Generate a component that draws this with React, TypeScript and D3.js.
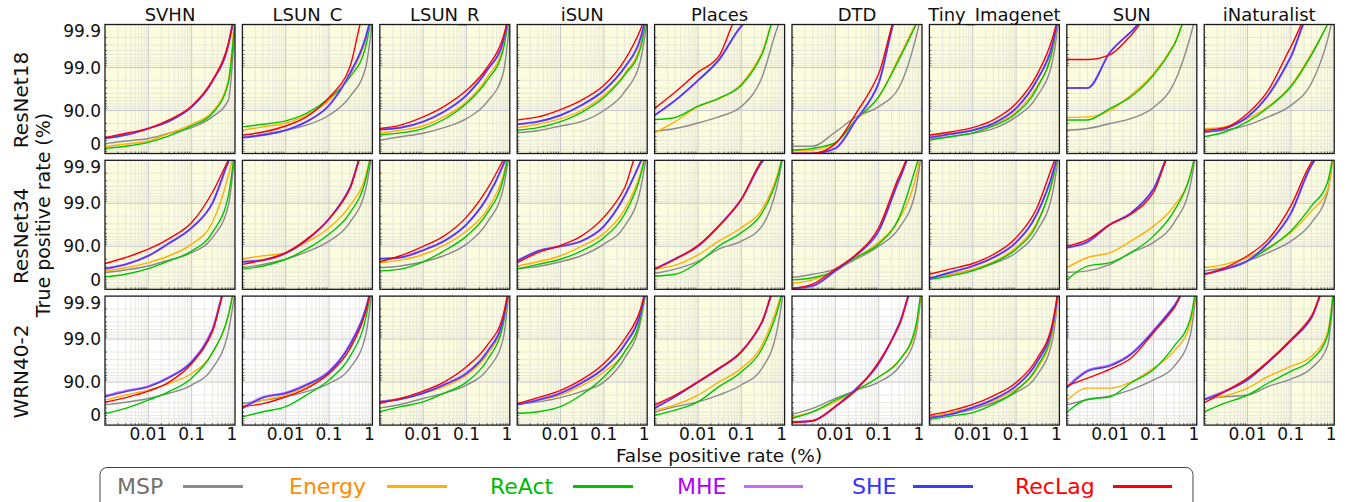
import React from 'react';
import * as d3 from 'd3';

const datasets = ['SVHN', 'LSUN_C', 'LSUN_R', 'iSUN', 'Places', 'DTD', 'Tiny_Imagenet', 'SUN', 'iNaturalist'];
const models = ['ResNet18', 'ResNet34', 'WRN40-2'];
const methods = ['MSP', 'Energy', 'ReAct', 'MHE', 'SHE', 'RecLag'];

// false positive rates the curves were read at
const fprSamples = [0.001, 0.003, 0.01, 0.03, 0.1, 0.3, 0.7, 1];
const xTickValues = [0.01, 0.1, 1];
const xTickLabels = ['0.01', '0.1', '1'];
const yTickValues = [99.86, 99, 90, 41];
const yTickLabels = ['99.9', '99.0', '90.0', '0'];

// true positive rate (%) per panel, row by row (ResNet18, ResNet34, WRN40-2), datasets in order
const msp = [
  [41.1, 48.7, 55.3, 66.1, 74.9, 85.9, 94.2, 99.9],
  [57.3, 64.5, 71.2, 78.1, 87.1, 95.2, 99.0, 99.92],
  [51.0, 59.3, 66.1, 74.9, 84.5, 93.7, 98.6, 99.92],
  [66.9, 70.5, 77.1, 81.8, 90.0, 96.3, 99.32, 99.92],
  [69.8, 73.7, 80.5, 85.9, 91.9, 98.3, 99.89, 99.95],
  [32.4, 32.4, 68.4, 85.9, 91.9, 97.2, 99.77, 99.95],
  [55.3, 59.3, 66.1, 73.7, 85.9, 95.2, 99.32, 99.94],
  [71.2, 73.7, 80.0, 84.5, 91.5, 97.7, 99.8, 99.95],
  [68.4, 71.2, 78.1, 85.9, 92.4, 97.7, 99.77, 99.95],
  [59.3, 64.5, 71.2, 79.1, 85.9, 93.7, 98.85, 99.94],
  [68.4, 73.7, 80.0, 86.5, 92.4, 97.2, 99.53, 99.94],
  [68.4, 71.2, 77.1, 83.4, 91.1, 97.2, 99.53, 99.94],
  [66.9, 70.5, 77.1, 83.4, 91.1, 96.6, 99.53, 99.94],
  [57.3, 66.1, 77.6, 88.3, 92.4, 96.6, 99.67, 99.95],
  [46.3, 55.3, 66.1, 80.0, 90.0, 96.3, 99.44, 99.95],
  [46.3, 55.3, 64.5, 74.9, 85.9, 95.6, 99.44, 99.94],
  [59.3, 62.8, 73.7, 85.9, 91.9, 97.2, 99.6, 99.95],
  [62.8, 68.4, 78.1, 85.9, 92.4, 97.2, 99.44, 99.95],
  [66.1, 70.5, 76.0, 81.8, 88.3, 95.2, 99.32, 99.92],
  [68.4, 73.7, 78.1, 83.4, 89.3, 95.2, 99.19, 99.94],
  [60.2, 66.9, 76.0, 81.8, 88.3, 94.8, 99.0, 99.95],
  [66.9, 71.2, 77.1, 83.4, 90.0, 97.2, 99.6, 99.95],
  [49.9, 62.8, 71.2, 80.0, 88.3, 95.2, 99.5, 99.95],
  [43.8, 59.3, 76.0, 84.5, 90.0, 95.6, 99.1, 99.94],
  [32.4, 43.8, 57.3, 69.8, 82.6, 92.9, 99.0, 99.95],
  [66.1, 74.3, 79.1, 84.9, 91.1, 95.7, 99.15, 99.94],
  [76.0, 78.1, 80.0, 87.4, 91.5, 95.3, 98.55, 99.94],
];

const energy = [
  [30.8, 39.7, 48.7, 66.1, 79.1, 89.3, 98.0, 99.95],
  [71.2, 76.0, 80.5, 87.1, 94.2, 98.5, 99.77, 99.95],
  [66.1, 71.2, 77.1, 85.9, 93.7, 98.3, 99.67, 99.95],
  [74.9, 79.1, 84.5, 90.0, 95.6, 98.6, 99.7, 99.95],
  [66.9, 81.8, 91.9, 94.6, 97.6, 99.55, 99.95, 99.95],
  [12.9, 16.8, 43.8, 83.4, 95.2, 99.44, 99.9, 99.95],
  [62.8, 66.1, 71.2, 78.1, 89.3, 97.2, 99.6, 99.95],
  [85.5, 85.9, 90.0, 95.6, 98.6, 99.72, 99.95, 99.95],
  [73.7, 76.0, 84.5, 91.9, 97.4, 99.53, 99.9, 99.95],
  [62.8, 68.4, 76.0, 83.4, 91.1, 97.2, 99.77, 99.95],
  [80.5, 83.4, 85.9, 91.9, 96.3, 98.85, 99.77, 99.95],
  [76.0, 79.1, 84.5, 90.5, 95.6, 98.6, 99.77, 99.95],
  [71.2, 77.1, 83.4, 90.0, 95.0, 98.6, 99.8, 99.95],
  [66.1, 72.5, 84.2, 92.4, 96.3, 98.6, 99.8, 99.95],
  [27.6, 39.7, 62.8, 81.8, 91.9, 97.7, 99.72, 99.95],
  [46.3, 55.3, 66.1, 77.1, 89.3, 97.2, 99.7, 99.95],
  [68.4, 81.8, 85.9, 92.4, 96.6, 98.85, 99.77, 99.95],
  [68.4, 73.7, 81.8, 89.3, 95.2, 98.5, 99.5, 99.95],
  [73.7, 80.0, 84.5, 89.3, 93.7, 97.9, 99.72, 99.95],
  [62.8, 73.7, 80.0, 87.1, 93.7, 98.3, 99.79, 99.95],
  [71.2, 76.0, 81.8, 87.1, 93.1, 97.7, 99.6, 99.95],
  [68.4, 73.7, 80.0, 87.7, 94.2, 98.0, 99.67, 99.95],
  [55.3, 66.1, 80.0, 90.0, 95.2, 98.6, 99.84, 99.95],
  [35.4, 51.0, 71.2, 84.5, 92.4, 96.9, 99.32, 99.95],
  [36.9, 48.7, 61.1, 72.5, 85.5, 95.0, 99.32, 99.95],
  [73.1, 86.2, 86.2, 90.0, 95.3, 98.1, 99.54, 99.95],
  [76.0, 79.1, 86.2, 92.6, 95.7, 97.5, 99.29, 99.95],
];

const react = [
  [24.1, 32.4, 45.0, 61.1, 77.1, 88.3, 97.7, 99.92],
  [76.0, 79.1, 82.6, 88.3, 94.8, 98.3, 99.67, 99.95],
  [62.8, 66.9, 73.7, 83.8, 93.1, 98.0, 99.6, 99.95],
  [71.2, 74.9, 81.8, 88.8, 95.0, 98.5, 99.64, 99.95],
  [83.8, 85.5, 92.1, 94.8, 97.4, 99.5, 99.95, 99.95],
  [16.8, 24.1, 43.8, 83.8, 95.2, 99.37, 99.89, 99.95],
  [51.0, 59.3, 66.9, 77.1, 88.3, 96.9, 99.64, 99.95],
  [83.4, 83.4, 91.1, 95.2, 98.5, 99.7, 99.95, 99.95],
  [59.3, 68.4, 81.8, 91.5, 97.2, 99.49, 99.9, 99.95],
  [48.7, 55.3, 66.9, 78.1, 87.1, 95.2, 99.32, 99.95],
  [66.1, 71.2, 80.0, 88.3, 94.8, 98.3, 99.72, 99.95],
  [62.8, 66.1, 77.1, 87.1, 94.2, 98.3, 99.72, 99.95],
  [66.1, 73.7, 80.0, 87.1, 93.7, 98.2, 99.77, 99.95],
  [51.0, 55.3, 76.0, 90.0, 95.2, 98.3, 99.77, 99.95],
  [39.7, 46.3, 62.8, 81.8, 91.1, 97.9, 99.84, 99.95],
  [41.1, 51.0, 62.8, 76.0, 88.3, 96.9, 99.72, 99.95],
  [39.7, 71.2, 76.0, 85.9, 94.2, 98.5, 99.77, 99.95],
  [55.3, 66.1, 78.1, 88.8, 95.6, 98.85, 99.67, 99.95],
  [46.3, 59.3, 73.7, 83.4, 91.9, 97.9, 99.72, 99.95],
  [35.4, 51.0, 62.8, 80.0, 91.1, 97.4, 99.67, 99.95],
  [51.0, 62.8, 71.2, 81.8, 90.0, 96.9, 99.53, 99.95],
  [46.3, 51.0, 62.8, 80.0, 92.4, 98.0, 99.67, 99.95],
  [41.1, 55.3, 71.2, 87.1, 94.2, 98.3, 99.8, 99.95],
  [30.8, 51.0, 73.7, 84.5, 92.4, 96.9, 99.44, 99.95],
  [25.9, 38.3, 48.7, 66.9, 84.2, 95.4, 99.44, 99.95],
  [49.9, 74.9, 78.1, 89.5, 94.9, 98.55, 99.65, 99.95],
  [51.0, 69.1, 80.0, 89.5, 94.4, 97.0, 99.15, 99.95],
];

const mhe = [
  [56.0, 63.5, 74.0, 82.5, 91.8, 97.9, 99.7, 99.95],
  [57.3, 62.8, 71.2, 81.8, 92.4, 98.6, 99.8, 99.95],
  [72.5, 74.9, 81.8, 89.3, 95.6, 98.85, 99.75, 99.95],
  [79.1, 81.8, 87.1, 92.4, 96.6, 99.0, 99.79, 99.95],
  [87.1, 94.2, 98.0, 99.32, 99.89, 99.95, 99.95, 99.95],
  [0, 0, 24.1, 83.4, 97.7, 99.95, 99.95, 99.95],
  [57.3, 64.5, 71.2, 80.0, 91.1, 98.0, 99.72, 99.95],
  [97.0, 97.0, 99.56, 99.85, 99.95, 99.95, 99.95, 99.95],
  [68.4, 73.7, 85.9, 95.6, 99.44, 99.95, 99.95, 99.95],
  [66.9, 73.7, 83.4, 91.5, 96.3, 99.0, 99.89, 99.95],
  [77.1, 79.1, 85.5, 92.8, 97.7, 99.56, 99.95, 99.95],
  [80.5, 81.8, 87.7, 92.4, 96.9, 99.26, 99.87, 99.95],
  [78.1, 87.1, 90.0, 92.4, 96.6, 99.32, 99.89, 99.95],
  [66.1, 80.5, 90.0, 96.6, 99.19, 99.89, 99.95, 99.95],
  [4.5, 16.8, 62.8, 83.8, 95.6, 99.72, 99.95, 99.95],
  [43.8, 59.3, 71.2, 81.8, 91.9, 98.2, 99.8, 99.95],
  [89.3, 92.1, 96.9, 98.3, 99.53, 99.95, 99.95, 99.95],
  [55.3, 66.1, 78.1, 91.5, 98.3, 99.87, 99.95, 99.95],
  [79.0, 84.0, 87.5, 92.3, 96.7, 99.4, 99.95, 99.95],
  [61.0, 77.6, 82.2, 88.6, 94.4, 98.65, 99.8, 99.95],
  [71.6, 75.4, 82.2, 88.6, 93.9, 98.05, 99.65, 99.95],
  [67.0, 74.3, 82.2, 89.6, 95.3, 98.65, 99.76, 99.95],
  [60.5, 78.6, 90.2, 95.1, 98.05, 99.6, 99.95, 99.95],
  [14.9, 20.6, 62.8, 85.5, 96.3, 99.56, 99.95, 99.95],
  [32.4, 43.8, 61.1, 74.9, 87.7, 96.5, 99.53, 99.95],
  [87.0, 94.6, 96.0, 97.8, 99.36, 99.83, 99.95, 99.95],
  [74.8, 83.8, 91.3, 96.6, 98.92, 99.69, 99.95, 99.95],
];

const she = [
  [55.3, 62.8, 73.7, 82.2, 91.7, 97.9, 99.7, 99.95],
  [57.3, 62.8, 71.2, 81.8, 92.4, 98.6, 99.8, 99.95],
  [72.5, 74.9, 81.8, 89.3, 95.6, 98.85, 99.75, 99.95],
  [79.1, 81.8, 87.1, 92.4, 96.6, 99.0, 99.79, 99.95],
  [87.1, 94.2, 98.0, 99.32, 99.89, 99.95, 99.95, 99.95],
  [0, 0, 24.1, 83.4, 97.7, 99.95, 99.95, 99.95],
  [57.3, 64.5, 71.2, 80.0, 91.1, 98.0, 99.72, 99.95],
  [97.0, 97.0, 99.56, 99.85, 99.95, 99.95, 99.95, 99.95],
  [68.4, 73.7, 85.9, 95.6, 99.44, 99.95, 99.95, 99.95],
  [66.9, 73.7, 83.4, 91.5, 96.3, 99.0, 99.89, 99.95],
  [77.1, 79.1, 85.5, 92.8, 97.7, 99.56, 99.95, 99.95],
  [80.5, 81.8, 87.7, 92.4, 96.9, 99.26, 99.87, 99.95],
  [78.1, 87.1, 90.0, 92.4, 96.6, 99.32, 99.89, 99.95],
  [66.1, 80.5, 90.0, 96.6, 99.19, 99.89, 99.95, 99.95],
  [4.5, 16.8, 62.8, 83.8, 95.6, 99.72, 99.95, 99.95],
  [43.8, 59.3, 71.2, 81.8, 91.9, 98.2, 99.8, 99.95],
  [89.3, 92.1, 96.9, 98.3, 99.53, 99.95, 99.95, 99.95],
  [55.3, 66.1, 78.1, 91.5, 98.3, 99.87, 99.95, 99.95],
  [78.1, 83.4, 87.1, 92.1, 96.6, 99.37, 99.95, 99.95],
  [59.3, 77.1, 81.8, 88.3, 94.2, 98.6, 99.8, 99.95],
  [71.2, 74.9, 81.8, 88.3, 93.7, 98.0, 99.64, 99.95],
  [66.1, 73.7, 81.8, 89.3, 95.2, 98.6, 99.75, 99.95],
  [59.3, 78.1, 90.0, 95.0, 98.0, 99.59, 99.95, 99.95],
  [14.9, 20.6, 62.8, 85.5, 96.3, 99.56, 99.95, 99.95],
  [32.4, 43.8, 61.1, 74.9, 87.7, 96.5, 99.53, 99.95],
  [86.2, 94.4, 95.8, 97.7, 99.35, 99.83, 99.95, 99.95],
  [74.3, 83.4, 91.1, 96.5, 98.9, 99.68, 99.95, 99.95],
];

const reclag = [
  [57.3, 66.1, 73.7, 83.4, 92.1, 98.0, 99.72, 99.95],
  [62.8, 68.4, 77.1, 85.9, 95.0, 99.0, 99.95, 99.95],
  [73.7, 78.1, 85.9, 91.9, 96.6, 99.0, 99.8, 99.95],
  [83.4, 85.9, 90.5, 94.2, 97.4, 99.32, 99.87, 99.95],
  [91.1, 96.3, 98.7, 99.44, 99.95, 99.95, 99.95, 99.95],
  [0, 0, 41.1, 88.3, 98.6, 99.95, 99.95, 99.95],
  [62.8, 68.4, 74.9, 83.4, 93.1, 98.5, 99.8, 99.95],
  [99.35, 99.35, 99.5, 99.82, 99.95, 99.95, 99.95, 99.95],
  [71.2, 74.9, 88.3, 96.6, 99.67, 99.95, 99.95, 99.95],
  [74.9, 81.8, 88.3, 93.4, 97.2, 99.44, 99.9, 99.95],
  [73.7, 79.1, 85.9, 93.1, 97.7, 99.53, 99.95, 99.95],
  [77.1, 83.4, 90.0, 94.2, 97.9, 99.53, 99.9, 99.95],
  [76.0, 85.9, 90.5, 94.2, 97.9, 99.56, 99.95, 99.95],
  [66.1, 80.0, 90.5, 96.6, 99.19, 99.9, 99.95, 99.95],
  [4.5, 24.1, 66.1, 84.5, 96.3, 99.77, 99.95, 99.95],
  [55.3, 66.1, 74.9, 84.5, 93.7, 98.7, 99.87, 99.95],
  [90.0, 93.0, 96.9, 98.2, 99.44, 99.95, 99.95, 99.95],
  [55.3, 68.4, 83.4, 93.1, 98.85, 99.89, 99.95, 99.95],
  [70.5, 77.1, 83.8, 90.0, 96.3, 99.32, 99.95, 99.95],
  [62.8, 68.4, 78.1, 85.9, 93.7, 98.3, 99.77, 99.95],
  [68.4, 76.0, 83.8, 90.0, 95.6, 98.6, 99.72, 99.95],
  [68.4, 77.1, 84.5, 91.1, 96.3, 99.0, 99.8, 99.95],
  [66.1, 80.0, 90.0, 95.2, 98.0, 99.6, 99.95, 99.95],
  [12.9, 20.6, 62.8, 84.5, 96.6, 99.53, 99.95, 99.95],
  [41.1, 53.2, 66.9, 79.1, 89.8, 97.1, 99.6, 99.95],
  [87.7, 91.9, 95.0, 97.2, 99.29, 99.81, 99.95, 99.95],
  [69.8, 83.4, 91.9, 96.7, 98.98, 99.71, 99.95, 99.95],
];

const series = [msp, energy, react, mhe, she, reclag];
const lineColors = ['#8a8a8a', '#ffb000', '#00c400', '#c86af5', '#3b3bff', '#ff0000'];
const textColors = ['#707070', '#ff8c00', '#00bb00', '#b000ff', '#3333ff', '#ff0000'];
const lineWidths = [1.4, 1.4, 1.4, 2.2, 1.4, 1.4];

// legend layout: text start, line start, line end
const legendPos = [
  [117, 183, 243],
  [289, 387, 447],
  [490, 573, 633],
  [677, 744, 803],
  [852, 913, 973],
  [1015, 1113, 1172],
];

const W = 1348;
const H = 502;
const PW = 130;
const PH = 129;
const X0 = 105;
const DX = 137.4;
const Y0 = 24.5;
const DY = 135.8;
const FONT = 'DejaVu Sans, sans-serif';
const whitePanels = ['2-0', '2-1', '2-5', '2-7'];

const xScale = d3.scaleLog().domain([0.001, 1]).range([0, PW]);
const missScale = d3.scaleLog().domain([1, 0.001]).range([PH, 0]);
const yOf = (tpr: number) => missScale(Math.max(1 - tpr / 100, 0.0002));

const minorX: number[] = [];
const minorMiss: number[] = [];
[0.001, 0.01, 0.1].forEach(k => {
  for (let m = 2; m <= 9; m++) {
    minorX.push(m * k);
    minorMiss.push(m * k);
  }
});

const curve = d3
  .line<number>()
  .x((_, i) => xScale(fprSamples[i]))
  .y(d => yOf(d))
  .curve(d3.curveMonotoneX);

function Panel({ row, col }: { row: number; col: number }) {
  const left = X0 + col * DX;
  const top = Y0 + row * DY;
  const idx = row * 9 + col;
  const bg = whitePanels.includes(`${row}-${col}`) ? '#ffffff' : '#fcfcdf';
  const clipId = `clip-${row}-${col}`;
  return (
    <g transform={`translate(${left},${top})`}>
      <defs>
        <clipPath id={clipId}>
          <rect x={0} y={0} width={PW} height={PH} />
        </clipPath>
      </defs>
      <rect x={0} y={0} width={PW} height={PH} fill={bg} />
      {minorX.map(v => (
        <line key={'mx' + v} x1={xScale(v)} x2={xScale(v)} y1={0} y2={PH} stroke="#e0e0da" strokeWidth={0.7} />
      ))}
      {minorMiss.map(v => (
        <line key={'my' + v} x1={0} x2={PW} y1={missScale(v)} y2={missScale(v)} stroke="#e0e0da" strokeWidth={0.7} />
      ))}
      {[0.01, 0.1].map(v => (
        <line key={'gx' + v} x1={xScale(v)} x2={xScale(v)} y1={0} y2={PH} stroke="#c8c8c8" strokeWidth={1} />
      ))}
      {[0.01, 0.1].map(v => (
        <line key={'gy' + v} x1={0} x2={PW} y1={missScale(v)} y2={missScale(v)} stroke="#c8c8c8" strokeWidth={1} />
      ))}
      {minorMiss.map(v => (
        <line key={'ty' + v} x1={0} x2={2} y1={missScale(v)} y2={missScale(v)} stroke="#333" strokeWidth={0.7} />
      ))}
      {minorX.map(v => (
        <line key={'tx' + v} x1={xScale(v)} x2={xScale(v)} y1={PH} y2={PH - 2} stroke="#333" strokeWidth={0.7} />
      ))}
      <g clipPath={`url(#${clipId})`}>
        {series.map((s, k) => (
          <path
            key={methods[k]}
            d={curve(s[idx]) || ''}
            fill="none"
            stroke={lineColors[k]}
            strokeWidth={lineWidths[k]}
            strokeLinejoin="round"
          />
        ))}
      </g>
      <rect x={0} y={0} width={PW} height={PH} fill="none" stroke="#1a1a1a" strokeWidth={1.3} />
      {row === 0 && (
        <text x={PW / 2} y={-4} textAnchor="middle" fontSize={18} fontFamily={FONT} fill="#111">
          {datasets[col]}
        </text>
      )}
      {col === 0 &&
        yTickValues.map((v, i) => (
          <text
            key={'yl' + i}
            x={-4}
            y={yOf(v)}
            dy="0.36em"
            textAnchor="end"
            fontSize={17}
            fontFamily={FONT}
            fill="#111"
          >
            {yTickLabels[i]}
          </text>
        ))}
      {row === 2 &&
        xTickValues.map((v, i) => (
          <text
            key={'xl' + i}
            x={xScale(v) - (v === 1 ? 3 : 0)}
            y={PH + 15}
            textAnchor="middle"
            fontSize={17}
            fontFamily={FONT}
            fill="#111"
          >
            {xTickLabels[i]}
          </text>
        ))}
    </g>
  );
}

export default function App() {
  const cells: { row: number; col: number }[] = [];
  models.forEach((_, r) => datasets.forEach((_, c) => cells.push({ row: r, col: c })));
  return (
    <svg width={W} height={H} style={{ position: 'absolute', left: 0, top: 0, background: '#fff' }}>
      {cells.map(c => (
        <Panel key={`${c.row}-${c.col}`} row={c.row} col={c.col} />
      ))}
      {models.map((m, r) => (
        <text
          key={m}
          transform={`translate(28,${Y0 + r * DY + PH / 2 + 11}) rotate(-90)`}
          textAnchor="middle"
          fontSize={20}
          fontFamily={FONT}
          fill="#111"
        >
          {m}
        </text>
      ))}
      <text transform="translate(50,215) rotate(-90)" textAnchor="middle" fontSize={19} fontFamily={FONT} fill="#111">
        True positive rate (%)
      </text>
      <text x={719} y={462} textAnchor="middle" fontSize={18.5} fontFamily={FONT} fill="#111">
        False positive rate (%)
      </text>
      <rect x={100} y={467.5} width={1093} height={60} rx={7} fill="#fff" stroke="#444" strokeWidth={1} />
      {methods.map((m, k) => (
        <g key={'lg' + m}>
          <text x={legendPos[k][0]} y={493.5} fontSize={22} fontFamily={FONT} fill={textColors[k]}>
            {m}
          </text>
          <line
            x1={legendPos[k][1]}
            x2={legendPos[k][2]}
            y1={486.5}
            y2={486.5}
            stroke={lineColors[k]}
            strokeWidth={3}
          />
        </g>
      ))}
    </svg>
  );
}
